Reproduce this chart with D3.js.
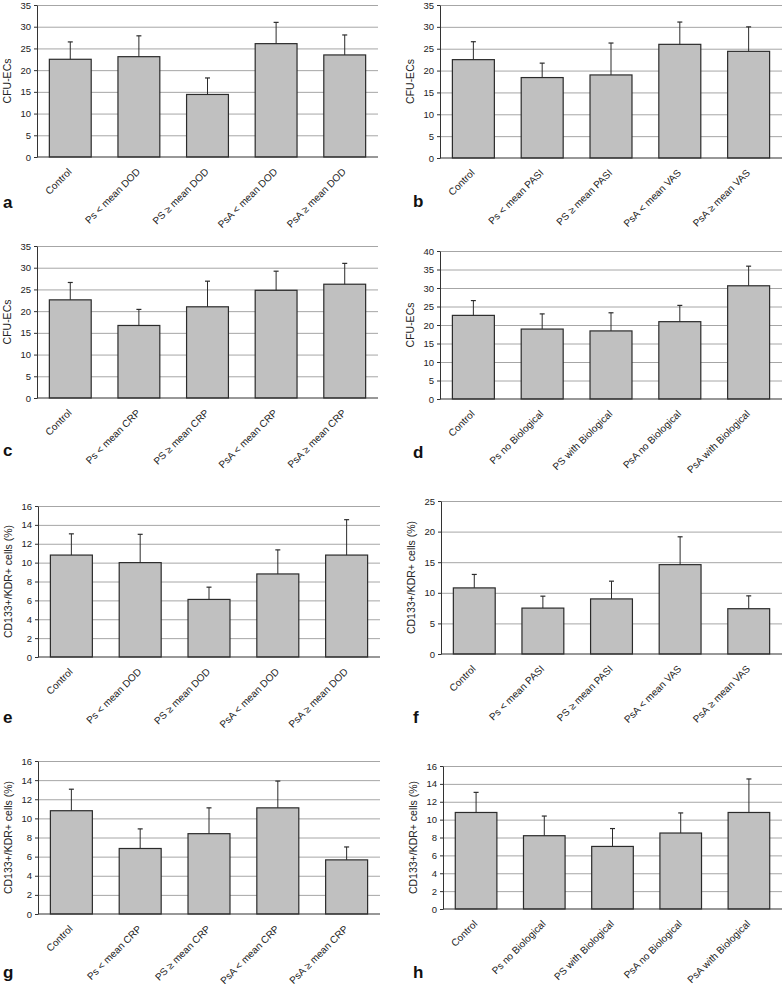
<!DOCTYPE html>
<html>
<head>
<meta charset="utf-8">
<script src="https://cdn.jsdelivr.net/npm/d3@7"></script>
<style>
  html, body { margin: 0; padding: 0; background: #fff; }
  svg { display: block; font-family: "Liberation Sans", Arial, sans-serif; }
</style>
</head>
<body>
<svg id="chart" width="784" height="984"></svg>
<script>
// categories
const catsDOD = ["Control", "Ps < mean DOD", "PS \u2265 mean DOD", "PsA < mean DOD", "PsA \u2265 mean DOD"];
const catsPASI = ["Control", "Ps < mean PASI", "PS \u2265 mean PASI", "PsA < mean VAS", "PsA \u2265 mean VAS"];
const catsCRP = ["Control", "Ps < mean CRP", "PS \u2265 mean CRP", "PsA < mean CRP", "PsA \u2265 mean CRP"];
const catsBio = ["Control", "Ps no Biological", "PS with Biological", "PsA no Biological", "PsA with Biological"];

// CFU-ECs (mean, upper SD)
const cfuDOD = [22.5, 23.1, 14.4, 26.1, 23.5];
const cfuDODsd = [4.0, 4.8, 3.8, 4.9, 4.6];
const cfuPASI = [22.5, 18.4, 19.0, 26.0, 24.4];
const cfuPASIsd = [4.1, 3.3, 7.3, 5.1, 5.6];
const cfuCRP = [22.6, 16.7, 21.0, 24.8, 26.2];
const cfuCRPsd = [4.0, 3.7, 5.9, 4.4, 4.8];
const cfuBio = [22.6, 18.9, 18.4, 20.9, 30.6];
const cfuBiosd = [4.0, 4.1, 4.9, 4.4, 5.3];

// CD133+/KDR+ cells (%)
const cdDOD = [10.8, 10.0, 6.1, 8.8, 10.8];
const cdDODsd = [2.25, 3.0, 1.3, 2.55, 3.75];
const cdPASI = [10.8, 7.5, 9.0, 14.6, 7.4];
const cdPASIsd = [2.2, 1.95, 2.9, 4.55, 2.1];
const cdCRP = [10.8, 6.85, 8.4, 11.1, 5.66];
const cdCRPsd = [2.25, 2.05, 2.7, 2.8, 1.35];
const cdBio = [10.8, 8.2, 7.0, 8.5, 10.8];
const cdBiosd = [2.25, 2.2, 2.0, 2.25, 3.75];

// tick labels
const ticks35 = [0, 5, 10, 15, 20, 25, 30, 35];
const ticks40 = [0, 5, 10, 15, 20, 25, 30, 35, 40];
const ticks16 = [0, 2, 4, 6, 8, 10, 12, 14, 16];
const ticks25 = [0, 5, 10, 15, 20, 25];

const titleCFU = "CFU-ECs";
const titleCD = "CD133+/KDR+ cells (%)";

// panel layout (x0/x1 plot edges, yT/yB top and zero lines, lx/ly letter position)
const panels = [
  { letter: "a", cats: catsDOD,  vals: cfuDOD,  sd: cfuDODsd,  ticks: ticks35, title: titleCFU, x0: 37,  x1: 378, yT: 5,   yB: 157, lx: 3,   ly: 208 },
  { letter: "b", cats: catsPASI, vals: cfuPASI, sd: cfuPASIsd, ticks: ticks35, title: titleCFU, x0: 440, x1: 782, yT: 5,   yB: 158, lx: 413, ly: 207 },
  { letter: "c", cats: catsCRP,  vals: cfuCRP,  sd: cfuCRPsd,  ticks: ticks35, title: titleCFU, x0: 37,  x1: 378, yT: 246, yB: 398, lx: 3,   ly: 456 },
  { letter: "d", cats: catsBio,  vals: cfuBio,  sd: cfuBiosd,  ticks: ticks40, title: titleCFU, x0: 440, x1: 782, yT: 251, yB: 399, lx: 413, ly: 458 },
  { letter: "e", cats: catsDOD,  vals: cdDOD,   sd: cdDODsd,   ticks: ticks16, title: titleCD,  x0: 38,  x1: 380, yT: 506, yB: 657, lx: 3,   ly: 723 },
  { letter: "f", cats: catsPASI, vals: cdPASI,  sd: cdPASIsd,  ticks: ticks25, title: titleCD,  x0: 441, x1: 782, yT: 501, yB: 654, lx: 413, ly: 723 },
  { letter: "g", cats: catsCRP,  vals: cdCRP,   sd: cdCRPsd,   ticks: ticks16, title: titleCD,  x0: 38,  x1: 380, yT: 761, yB: 914, lx: 3,   ly: 978 },
  { letter: "h", cats: catsBio,  vals: cdBio,   sd: cdBiosd,   ticks: ticks16, title: titleCD,  x0: 443, x1: 782, yT: 766, yB: 909, lx: 413, ly: 978 }
];

const svg = d3.select("#chart");

panels.forEach(p => {
  const g = svg.append("g");
  const data = p.cats.map((c, i) => ({ cat: c, v: p.vals[i], sd: p.sd[i] }));

  const x = d3.scaleBand().domain(p.cats).range([p.x0, p.x1]).paddingInner(0.39).paddingOuter(0.18);
  const y = d3.scaleLinear().domain([0, d3.max(p.ticks)]).range([p.yB, p.yT]);

  // gridlines
  g.selectAll("line.grid")
    .data(p.ticks.slice(1))
    .enter().append("line")
    .attr("x1", p.x0).attr("x2", p.x1)
    .attr("y1", d => y(d) + 0.5).attr("y2", d => y(d) + 0.5)
    .attr("stroke", "#a6a6a6")
    .attr("stroke-width", 1);

  // bars
  g.selectAll("rect.bar")
    .data(data)
    .enter().append("rect")
    .attr("x", d => x(d.cat))
    .attr("y", d => y(d.v))
    .attr("width", x.bandwidth())
    .attr("height", d => y(0) - y(d.v))
    .attr("fill", "#c0c0c0")
    .attr("stroke", "#2b2b2b")
    .attr("stroke-width", 1.2);

  // error bars (upper only)
  const eb = g.selectAll("g.err").data(data).enter().append("g");
  eb.append("line")
    .attr("x1", d => x(d.cat) + x.bandwidth() / 2).attr("x2", d => x(d.cat) + x.bandwidth() / 2)
    .attr("y1", d => y(d.v)).attr("y2", d => y(d.v + d.sd))
    .attr("stroke", "#2b2b2b").attr("stroke-width", 1);
  eb.append("line")
    .attr("x1", d => x(d.cat) + x.bandwidth() / 2 - 2.5).attr("x2", d => x(d.cat) + x.bandwidth() / 2 + 2.5)
    .attr("y1", d => y(d.v + d.sd)).attr("y2", d => y(d.v + d.sd))
    .attr("stroke", "#2b2b2b").attr("stroke-width", 1.2);

  // y axis
  const yAxis = g.append("g")
    .attr("transform", `translate(${p.x0},0)`)
    .call(d3.axisLeft(y).tickValues(p.ticks).tickSize(3).tickPadding(3).tickSizeOuter(0));
  yAxis.select(".domain").attr("stroke", "#333");
  yAxis.selectAll(".tick line").attr("stroke", "#333");
  yAxis.selectAll(".tick text").attr("fill", "#222").style("font-size", "9.5px");

  // x baseline
  g.append("line")
    .attr("x1", p.x0).attr("x2", p.x1)
    .attr("y1", y(0)).attr("y2", y(0))
    .attr("stroke", "#333").attr("stroke-width", 1.2);

  // category labels
  g.selectAll("text.cat")
    .data(p.cats)
    .enter().append("text")
    .attr("transform", d => `translate(${x(d) + x.bandwidth() / 2 - 0.5},${y(0) + 13}) rotate(-45)`)
    .attr("text-anchor", "end")
    .attr("dy", "0.35em")
    .style("font-size", "10px")
    .attr("fill", "#222")
    .text(d => d);

  // y title
  g.append("text")
    .attr("transform", `translate(${p.x0 - 26},${(p.yT + p.yB) / 2}) rotate(-90)`)
    .attr("text-anchor", "middle")
    .style("font-size", "10.5px")
    .attr("fill", "#222")
    .text(p.title);

  // panel letter
  g.append("text")
    .attr("x", p.lx)
    .attr("y", p.ly)
    .style("font-size", "17px")
    .style("font-weight", "bold")
    .attr("fill", "#111")
    .text(p.letter);
});
</script>
</body>
</html>
